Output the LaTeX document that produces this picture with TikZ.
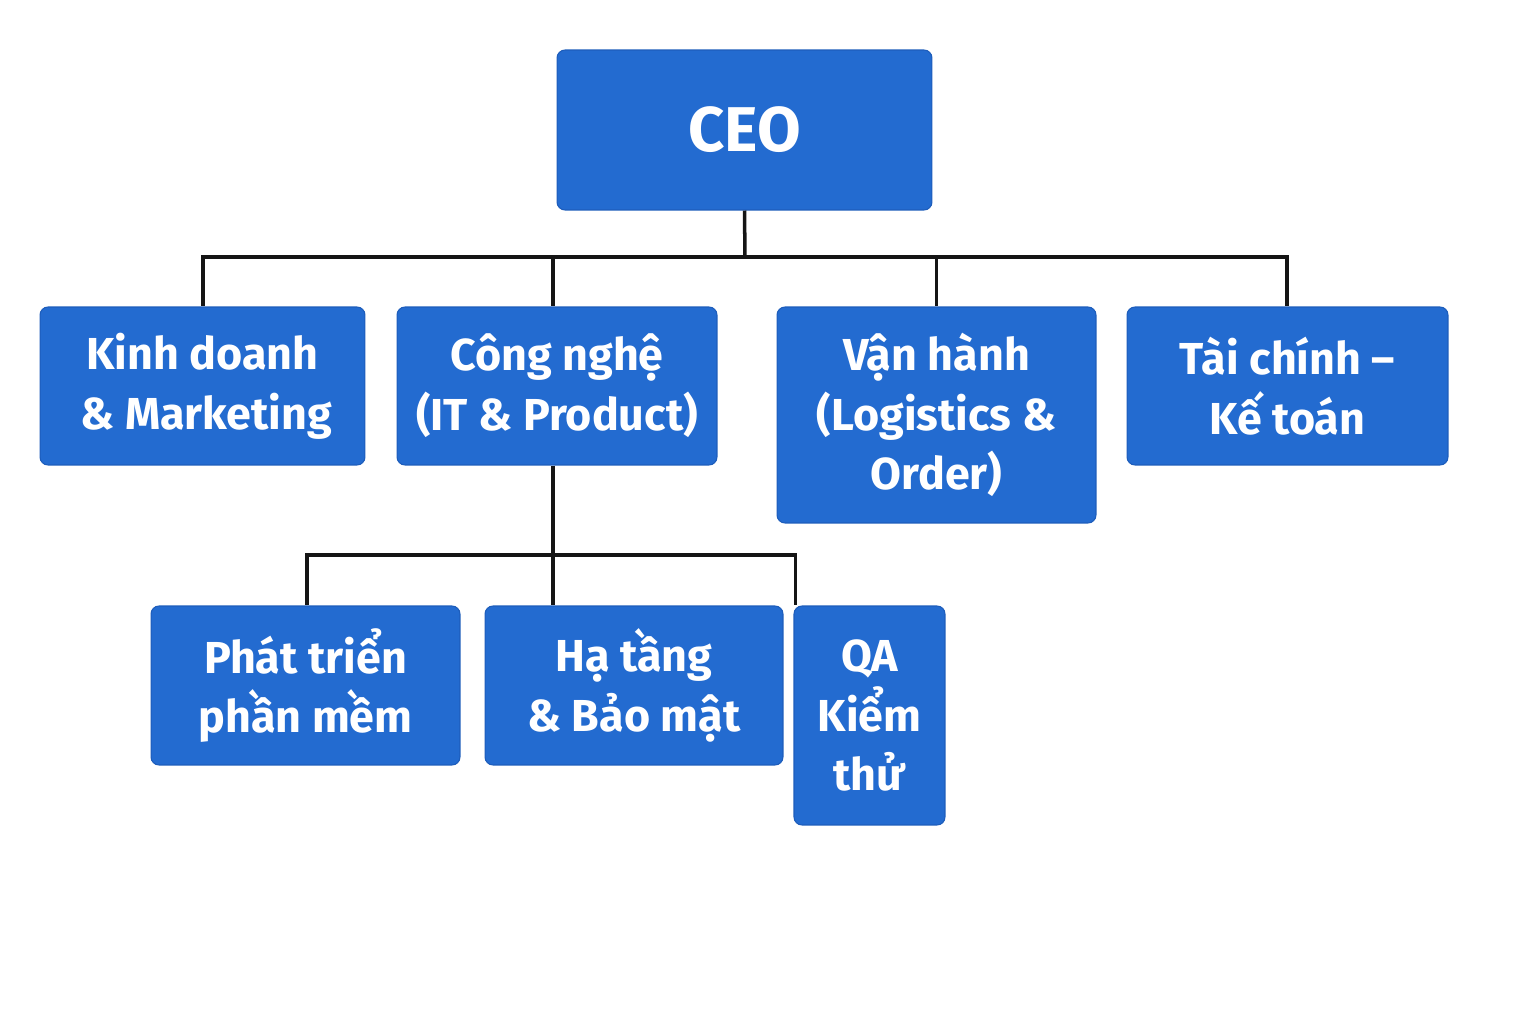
\documentclass[tikz,border=0pt]{standalone}
\usepackage{fontspec}
\setmainfont{Fira Sans}
\usetikzlibrary{calc,positioning}
\definecolor{ink}{HTML}{151515}
\definecolor{unit}{HTML}{236BD0}
\definecolor{unitEdge}{HTML}{1D5DBB}
\tikzset{
  unitbox/.style={draw=unitEdge,fill=unit,text=white,rounded corners=4.5pt,align=center,
    font=\fontsize{25.5}{34}\selectfont\bfseries,inner sep=2pt,line width=0.6pt},
  link/.style={line width=2pt,draw=ink}
}
\begin{document}
\begin{tikzpicture}[
        x=0.02cm,y=-0.02cm,
        topbox/.style={unitbox,minimum width=7.5cm,minimum height=3.2cm,font=\fontsize{36}{40}\selectfont\bfseries},
        deptbox/.style={unitbox,minimum height=3.16cm},
        teambox/.style={unitbox,minimum height=3.18cm}
      ]
        \useasboundingbox[fill=white] (0,0) rectangle (1536,1024);

        \node[topbox] (ceo) at (744.5,130) {CEO};

        \node[deptbox,minimum width=6.5cm] (sales) at (202.5,386) {Kinh doanh\\\,\& Marketing};
        \node[deptbox,minimum width=6.4cm] (tech) at (557,386) {Công nghệ\\(IT \& Product)};
        \node[deptbox,minimum width=6.38cm,minimum height=4.32cm] (ops) at (936.5,415) {Vận hành\\(Logistics \&\\Order)};
        \node[deptbox,minimum width=6.42cm] (fin) at (1287.5,386) {Tài chính –\\Kế toán};

        \node[teambox,minimum width=6.18cm] (dev) at (305.5,685.5) {Phát triển\\phần mềm};
        \node[teambox,minimum width=5.96cm] (infra) at (634,685.5) {Hạ tầng\\\& Bảo mật};
        \node[teambox,minimum width=3.02cm,minimum height=4.38cm] (qa) at (869.5,715.5) {QA\\Kiểm\\thử};

        \coordinate (busTop) at (745,257);
        \coordinate (busTech) at (553,555);

        \draw[link] (ceo.south) -- (busTop);
        \draw[link] (busTop) -| ($(sales.north)+(0.5,0)$);
        \draw[link] (busTop) -| ($(tech.north)+(-4,0)$);
        \draw[link] (busTop) -| (ops.north);
        \draw[link] (busTop) -| ($(fin.north)+(-0.5,0)$);

        \draw[link] ($(tech.south)+(-4,0)$) -- (busTech);
        \draw[link] (busTech) -| ($(dev.north)+(1.5,0)$);
        \draw[link] (busTech) -- (busTech |- infra.north);
        \draw[link] (busTech) -| ($(qa.north west)+(2,0)$);
      \end{tikzpicture}
\end{document}
